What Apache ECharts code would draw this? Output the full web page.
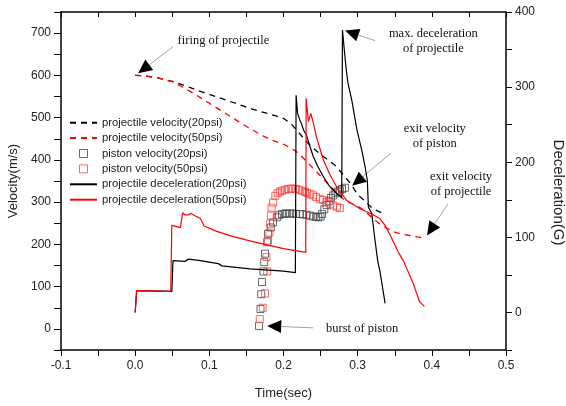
<!DOCTYPE html>
<html><head><meta charset="utf-8">
<script src="https://cdn.jsdelivr.net/npm/echarts@6/dist/echarts.min.js"></script>
<style>html,body{margin:0;padding:0;background:#fff}#c{width:566px;height:406px}</style>
</head><body><div id="c"></div>
<script>
// ---------- data ----------
const seriesNames = [
  'projectile velocity(20psi)', 'projectile velocity(50psi)',
  'piston velocity(20psi)', 'piston velocity(50psi)',
  'projectile deceleration(20psi)', 'projectile deceleration(50psi)'
];
// projectile velocity (m/s) vs time (s)
const projT20 = [0,0.01,0.02,0.03,0.04,0.05,0.06,0.07,0.08,0.09,0.1,0.11,0.12,0.13,0.14,0.15,0.16,0.17,0.18,0.19,0.2,0.21,0.22,0.23,0.24,0.25,0.26,0.27,0.28,0.29,0.3,0.31,0.32,0.334];
const projV20 = [600,599,597,594,590,586,580,574,567,561,555,549,543,537,531,525,519,514,509,504,498,486,466,445,428,413,400,386,366,345,318,302,285,273];
const projT50 = [0,0.01,0.02,0.03,0.04,0.05,0.06,0.07,0.08,0.09,0.1,0.11,0.12,0.13,0.14,0.15,0.16,0.17,0.18,0.19,0.2,0.21,0.22,0.23,0.24,0.25,0.26,0.27,0.28,0.29,0.3,0.31,0.32,0.33,0.34,0.35,0.36,0.37,0.38,0.388];
const projV50 = [600,599,597,594,590,585,576,566,556,545,534,523,512,501,490,479,469,459,450,443,437,428,416,398,380,362,343,325,308,298,290,279,262,248,238,229,224,221,218,216];
// piston velocity (m/s) vs time (s)
const pistT20 = [0.167,0.169,0.170,0.171,0.173,0.174,0.175,0.178,0.179,0.183,0.186,0.191,0.194,0.198,0.202,0.205,0.209,0.213,0.217,0.222,0.226,0.231,0.236,0.240,0.244,0.247,0.250,0.252,0.255,0.258,0.261,0.264,0.267,0.270,0.273,0.276,0.279,0.283];
const pistV20 = [7,47,82,111,136,158,178,205,225,240,252,264,269,272,273,273,273,273,272,272,271,270,268,266,265,264,266,272,283,293,302,310,316,321,325,328,331,334];
const pistT50 = [0.168,0.172,0.175,0.177,0.178,0.179,0.181,0.182,0.183,0.184,0.186,0.189,0.192,0.195,0.198,0.202,0.206,0.210,0.213,0.217,0.221,0.225,0.229,0.232,0.236,0.240,0.244,0.249,0.253,0.258,0.263,0.267,0.272,0.276];
const pistV50 = [23,50,84,170,136,209,228,249,268,287,299,315,321,325,327,329,331,332,332,331,329,327,324,322,319,316,312,308,305,300,296,292,289,286];
// projectile deceleration (G) vs time (s)
const decT20 = [0,0.002,0.0495,0.05,0.051,0.067,0.072,0.088,0.112,0.117,0.155,0.2,0.216,0.217,0.219,0.222,0.224,0.227,0.231,0.236,0.24,0.246,0.253,0.262,0.272,0.2785,0.2795,0.283,0.285,0.287,0.292,0.299,0.3055,0.31,0.313,0.3145,0.319,0.323,0.327,0.33,0.337];
const dec20 = [0,29,28,29,69,68,71,69,65,62,58,55,53,289,265,256,252,243,236,220,208,195,182,168,158,153,376,339,320,305,283,243,216,194,176,140,132,99,69,55,12];
const decT50 = [0,0.002,0.048,0.0494,0.061,0.064,0.067,0.069,0.072,0.075,0.08,0.088,0.093,0.11,0.1325,0.16,0.2,0.23,0.2305,0.2313,0.2336,0.2367,0.2403,0.2448,0.2538,0.2628,0.2718,0.2853,0.3032,0.3167,0.33,0.337,0.3437,0.3549,0.3616,0.3747,0.3836,0.39];
const dec50 = [0,29,28,116,113,133,130,132,130,132,129,125,115,108,101,94,85,80,285,283,254,265,252,232,203,183,167,149,138,132,125,116,103,80,69,39,14,8];
// axis tick labels
const xTicks = [-0.1,0,0.1,0.2,0.3,0.4,0.5];
const xTickText = ['-0.1','0.0','0.1','0.2','0.3','0.4','0.5'];
const yLeftTicks = [0,100,200,300,400,500,600,700];
const yRightTicks = [0,100,200,300,400];
// annotations (data coordinates on time / velocity axes)
const notes = [
  {text:'firing of projectile', at:[0.119,682], tail:[0.0512,668], tip:[0.004,605]},
  {text:'max. deceleration\nof projectile', at:[0.402,680], tail:[0.3235,682], tip:[0.283,706]},
  {text:'exit velocity\nof piston', at:[0.404,455], tail:[0.345,416], tip:[0.2925,339]},
  {text:'exit velocity\nof projectile', at:[0.4394,342], tail:[0.4218,296], tip:[0.3935,221]},
  {text:'burst of piston', at:[0.306,0], tail:[0.24,2.4], tip:[0.178,7]}
];
// ---------------------------------------------------
const zip = (a,b) => a.map((x,i)=>[x,b[i]]);
const near = (v,arr) => arr.findIndex(t => Math.abs(t-v) < 1e-6);
const chart = echarts.init(document.getElementById('c'));
const SANS = 'Liberation Sans';
const axisLine = {show:true, onZero:false, lineStyle:{color:'#000', width:1.5}};
const tick = (inside,len) => ({show:true, inside, length:len, lineStyle:{color:'#000', width:1}});
const lab = {fontFamily:SANS, fontSize:12, color:'#222'};
const noMark = {color:'rgba(0,0,0,0)', borderWidth:0};
const square = 'path://M0 0H10V10H0Z';

chart.setOption({
  animation:false,
  backgroundColor:'#fff',
  grid:{left:61, right:60, top:12, bottom:56, outerBoundsMode:'none', containLabel:false},
  legend:{
    orient:'vertical', left:69, top:115, itemWidth:27, itemHeight:8, itemGap:0, padding:0,
    textStyle:{fontFamily:SANS, fontSize:11.3, color:'#222', lineHeight:15.4},
    data:[
      {name:seriesNames[0], itemStyle:noMark}, {name:seriesNames[1], itemStyle:noMark},
      {name:seriesNames[2], icon:square, itemStyle:{color:'rgba(0,0,0,0)', borderColor:'#444', borderWidth:1}},
      {name:seriesNames[3], icon:square, itemStyle:{color:'rgba(0,0,0,0)', borderColor:'#ff4040', borderWidth:1}},
      {name:seriesNames[4], itemStyle:noMark}, {name:seriesNames[5], itemStyle:noMark}
    ]
  },
  xAxis:[
    {type:'value', position:'bottom', min:-0.1, max:0.5, interval:0.05,
     axisLine, axisTick:tick(false,6), splitLine:{show:false},
     axisLabel:Object.assign({margin:10, formatter:v=>{const i=near(v,xTicks);return i>=0?xTickText[i]:'';}}, lab),
     name:'Time(sec)', nameLocation:'middle', nameGap:37,
     nameTextStyle:{fontFamily:SANS, fontSize:13, color:'#222'}},
    {type:'value', position:'top', min:-0.1, max:0.5, interval:0.05,
     axisLine, axisTick:tick(true,5), axisLabel:{show:false}, splitLine:{show:false}}
  ],
  yAxis:[
    {type:'value', position:'left', min:-50, max:750, interval:50,
     axisLine, axisTick:tick(false,7), splitLine:{show:false},
     axisLabel:Object.assign({margin:10, formatter:v=>near(v,yLeftTicks)>=0?String(v):''}, lab),
     name:'Velocity(m/s)', nameLocation:'middle', nameGap:39,
     nameTextStyle:{fontFamily:SANS, fontSize:13, color:'#222'}},
    {type:'value', position:'right', min:-50, max:400, interval:50,
     axisLine, axisTick:tick(false,6), splitLine:{show:false},
     axisLabel:Object.assign({margin:9, formatter:v=>near(v,yRightTicks)>=0?String(v):''}, lab),
     name:'Deceleration(G)', nameLocation:'middle', nameGap:45, nameRotate:-90,
     nameTextStyle:{fontFamily:SANS, fontSize:15, color:'#222', padding:[0,0,0,23]}}
  ],
  series:[
    {name:seriesNames[0], type:'line', xAxisIndex:0, yAxisIndex:0, data:zip(projT20,projV20),
     symbol:'none', color:'#000', lineStyle:{color:'#000', width:1.3, type:[6,5]}},
    {name:seriesNames[1], type:'line', xAxisIndex:0, yAxisIndex:0, data:zip(projT50,projV50),
     symbol:'none', color:'#ff0000', lineStyle:{color:'#ff0000', width:1.3, type:[6,5]}},
    {name:seriesNames[2], type:'scatter', xAxisIndex:0, yAxisIndex:0, data:zip(pistT20,pistV20),
     symbol:'rect', symbolSize:7, color:'#444',
     itemStyle:{color:'rgba(0,0,0,0)', borderColor:'#444', borderWidth:1}},
    {name:seriesNames[3], type:'scatter', xAxisIndex:0, yAxisIndex:0, data:zip(pistT50,pistV50),
     symbol:'rect', symbolSize:7, color:'#ff4040',
     itemStyle:{color:'rgba(0,0,0,0)', borderColor:'#ff4040', borderWidth:1}},
    {name:seriesNames[4], type:'line', xAxisIndex:0, yAxisIndex:1, data:zip(decT20,dec20),
     symbol:'none', color:'#000', lineStyle:{color:'#000', width:1.2}},
    {name:seriesNames[5], type:'line', xAxisIndex:0, yAxisIndex:1, data:zip(decT50,dec50),
     symbol:'none', color:'#ff0000', lineStyle:{color:'#ff0000', width:1.2}}
  ]
});

// annotations: thin leader line + filled arrowhead + serif text
const px = p => chart.convertToPixel({xAxisIndex:0, yAxisIndex:0}, p);
const g = [];
notes.forEach(n => {
  const a = px(n.tail), b = px(n.tip), c = px(n.at);
  const dx = a[0]-b[0], dy = a[1]-b[1], L = Math.hypot(dx,dy);
  const ux = dx/L, uy = dy/L, HL = 14, HW = 6.5;
  const bx = b[0]+ux*HL, by = b[1]+uy*HL;
  g.push({type:'line', silent:true, shape:{x1:a[0], y1:a[1], x2:bx, y2:by}, style:{stroke:'#8c8c8c', lineWidth:0.8}});
  g.push({type:'polygon', silent:true, shape:{points:[[b[0],b[1]],[bx-uy*HW,by+ux*HW],[bx+uy*HW,by-ux*HW]]}, style:{fill:'#000'}});
  g.push({type:'text', silent:true, x:c[0], y:c[1], style:{text:n.text, fontFamily:'Liberation Serif', fontSize:12.5, lineHeight:15, align:'center', verticalAlign:'middle', fill:'#111'}});
});
chart.setOption({graphic:g});
</script></body></html>
